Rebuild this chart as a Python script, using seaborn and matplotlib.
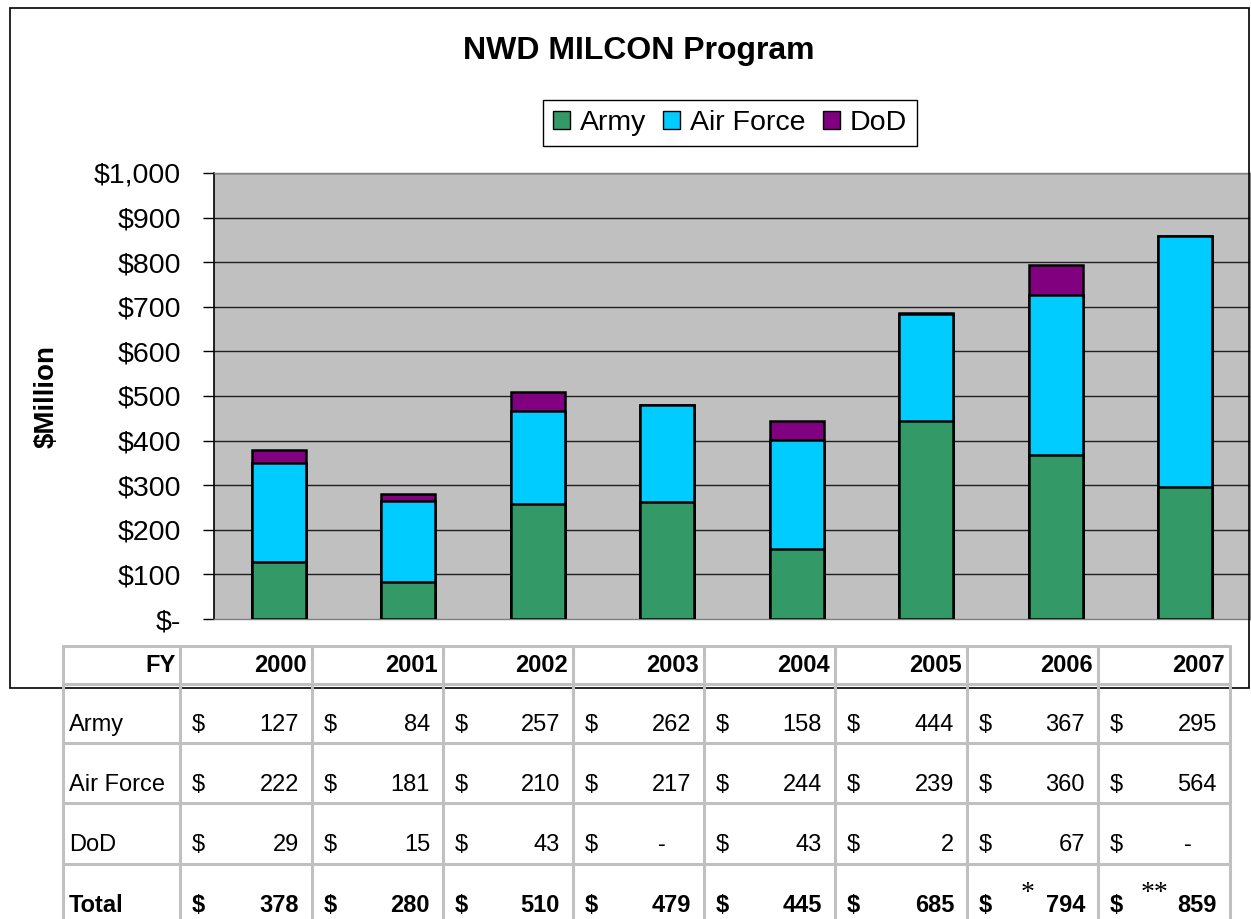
import matplotlib
matplotlib.use("Agg")
import matplotlib.pyplot as plt
from matplotlib.lines import Line2D
from matplotlib.patches import Rectangle, Patch
from matplotlib import font_manager
import numpy as np
import pandas as pd
import seaborn as sns

years = ["2000", "2001", "2002", "2003", "2004", "2005", "2006", "2007"]
army = [127, 84, 257, 262, 158, 444, 367, 295]
air_force = [222, 181, 210, 217, 244, 239, 360, 564]
dod = [29, 15, 43, 0, 43, 2, 67, 0]
totals = [378, 280, 510, 479, 445, 685, 794, 859]
y_ticks = [0, 100, 200, 300, 400, 500, 600, 700, 800, 900, 1000]
y_tick_labels = ["$-", "$100", "$200", "$300", "$400", "$500", "$600", "$700", "$800", "$900", "$1,000"]

C_ARMY = "#339966"
C_AF = "#00CCFF"
C_DOD = "#800080"

sns.set_style("white")
plt.rcParams["font.family"] = ["Liberation Sans", "DejaVu Sans"]
plt.rcParams["text.color"] = "black"
plt.rcParams["axes.labelcolor"] = "black"
plt.rcParams["xtick.color"] = "black"
plt.rcParams["ytick.color"] = "black"

avail = {f.name for f in font_manager.fontManager.ttflist}
NARROW = ["Liberation Sans Narrow", "Liberation Sans"] if "Liberation Sans Narrow" in avail else ["Liberation Sans"]
TBL_FS = 20 if "Liberation Sans Narrow" in avail else 17

W, H = 1251, 919
fig = plt.figure(figsize=(W / 100, H / 100), dpi=100)
fig.patch.set_facecolor("white")

def fx(x):
    return x / W

def fy(y):
    return 1 - y / H

# outer chart border
fig.add_artist(Rectangle((fx(10), fy(688)), fx(1249) - fx(10), fy(8) - fy(688),
                         transform=fig.transFigure, fill=False, edgecolor="black", lw=1.2))

ax = fig.add_axes([fx(214), fy(619), fx(1250) - fx(214), fy(173) - fy(619)])
ax.set_facecolor("#C0C0C0")

df = pd.DataFrame({"year": years, "army": army, "af": air_force, "dod": dod})
df["lvl2"] = df["army"] + df["af"]
df["lvl3"] = df["lvl2"] + df["dod"]

common = dict(width=0.42, edgecolor="black", linewidth=1.8, errorbar=None, ax=ax, order=years, zorder=3)
sns.barplot(data=df, x="year", y="lvl3", color=C_DOD, saturation=1, **common)
sns.barplot(data=df, x="year", y="lvl2", color=C_AF, saturation=1, **common)
sns.barplot(data=df, x="year", y="army", color=C_ARMY, saturation=1, **common)

ax.set_xlim(-0.5, len(years) - 0.5)
ax.set_ylim(0, 1000)
ax.set_yticks(y_ticks)
ax.set_yticklabels(y_tick_labels, fontsize=20.5)
ax.set_xticks([])
ax.set_xlabel("")
ax.set_ylabel("")
for v in y_ticks[1:]:
    ax.axhline(v, color="#202020", lw=1, zorder=1)
ax.tick_params(axis="y", direction="out", length=8, width=1, color="black", pad=16, left=True)
for s in ["top", "right", "bottom"]:
    ax.spines[s].set_color("#808080")
    ax.spines[s].set_linewidth(1)
ax.spines["left"].set_color("black")
ax.spines["left"].set_linewidth(1.2)

fig.text(fx(47), fy(397), "$Million", rotation=90, ha="center", va="center",
         fontsize=20, fontweight="bold")
fig.text(fx(639), fy(51), "NWD MILCON Program", ha="center", va="center",
         fontsize=23, fontweight="bold")

handles = [Patch(facecolor=C_ARMY, edgecolor="black", lw=1),
           Patch(facecolor=C_AF, edgecolor="black", lw=1),
           Patch(facecolor=C_DOD, edgecolor="black", lw=1)]
leg = fig.legend(handles, ["Army", "Air Force", "DoD"], loc="center",
                 bbox_to_anchor=(fx(730), fy(123)), ncol=3, fontsize=20.5, frameon=True,
                 fancybox=False, framealpha=1, edgecolor="black", handlelength=0.6,
                 handleheight=0.6, handletextpad=0.35, columnspacing=0.6, borderpad=0.35)
leg.get_frame().set_linewidth(1)

# data table
col_x = [63, 180, 312, 443, 573, 704, 835, 967, 1098, 1230]
row_y = [646, 684, 743, 803, 864]
grid_c = "#C0C0C0"
for x in col_x:
    fig.add_artist(Line2D([fx(x), fx(x)], [fy(646), fy(919)], transform=fig.transFigure,
                          color=grid_c, lw=2.2))
for y in row_y:
    fig.add_artist(Line2D([fx(63), fx(1230)], [fy(y), fy(y)], transform=fig.transFigure,
                          color=grid_c, lw=2.2))

fig.text(fx(176), fy(665), "FY", ha="right", va="center", fontsize=TBL_FS,
         fontweight="bold", family=NARROW)
for i, yr in enumerate(years):
    fig.text(fx(col_x[i + 2] - 5), fy(665), yr, ha="right", va="center",
             fontsize=TBL_FS, fontweight="bold", family=NARROW)

rows = [("Army", army, 725, "normal"), ("Air Force", air_force, 785, "normal"),
        ("DoD", dod, 845, "normal"), ("Total", totals, 905, "bold")]
for label, vals, yy, wt in rows:
    fig.text(fx(69), fy(yy), label, ha="left", va="center", fontsize=TBL_FS,
             fontweight=wt, family=NARROW)
    for i, v in enumerate(vals):
        left, right = col_x[i + 1], col_x[i + 2]
        fig.text(fx(left + 12), fy(yy), "$", ha="left", va="center", fontsize=TBL_FS,
                 fontweight=wt, family=NARROW)
        if v == 0:
            fig.text(fx(right - 38), fy(yy), "-", ha="right", va="center",
                     fontsize=TBL_FS, fontweight=wt, family=NARROW)
        else:
            fig.text(fx(right - 13), fy(yy), f"{v:,}", ha="right", va="center",
                     fontsize=TBL_FS, fontweight=wt, family=NARROW)

fig.text(fx(1028), fy(893), "*", ha="center", va="center", fontsize=20,
         family=["Liberation Serif"])
fig.text(fx(1155), fy(893), "**", ha="center", va="center", fontsize=20,
         family=["Liberation Serif"])

fig.savefig("out.png", dpi=100, facecolor="white")
